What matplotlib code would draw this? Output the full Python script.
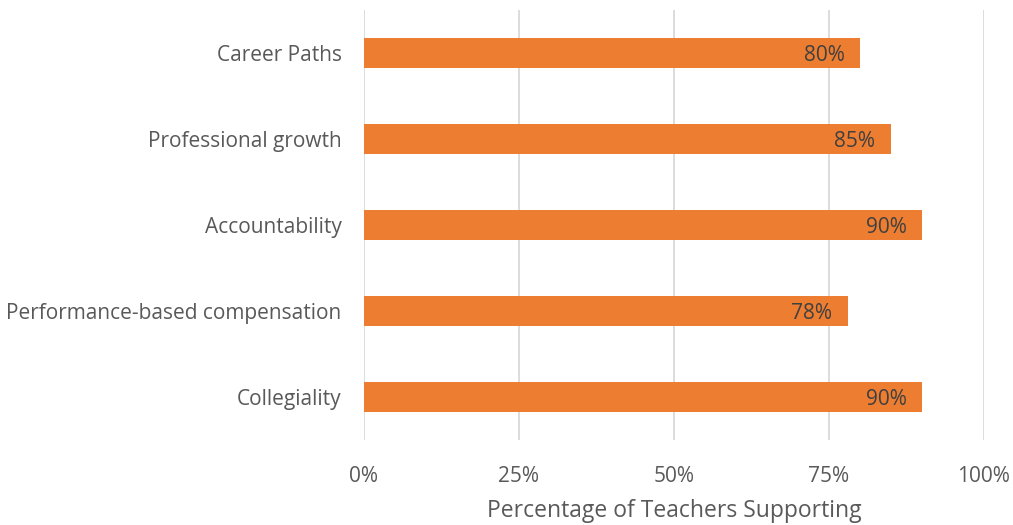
import matplotlib.pyplot as plt

categories = ['Career Paths', 'Professional growth', 'Accountability',
              'Performance-based compensation', 'Collegiality']
values = [80, 85, 90, 78, 90]
xticks = [0, 25, 50, 75, 100]
xtick_labels = ['0%', '25%', '50%', '75%', '100%']

plt.rcParams['font.family'] = ['Open Sans', 'DejaVu Sans']

fig = plt.figure(figsize=(10.13, 5.25), dpi=100)
ax = fig.add_axes([0.3593, 0.162, 0.612, 0.819])

pos = list(range(len(categories)))
bars = ax.barh(pos, values, height=0.35, color='#ED7D31', zorder=2)

for b, v in zip(bars, values):
    ax.text(v - 2.5, b.get_y() + b.get_height() / 2 + 0.03, f'{v}%', ha='right', va='center',
            fontsize=15, color='#404040', zorder=3)

ax.set_ylim(len(categories) - 0.5, -0.5)
ax.set_xlim(0, 100)
ax.set_yticks(pos)
ax.set_yticklabels(categories, fontsize=15, color='#595959')
ax.set_xticks(xticks)
ax.set_xticklabels(xtick_labels, fontsize=15, color='#595959')
ax.tick_params(axis='both', length=0)
ax.tick_params(axis='y', pad=16)
ax.tick_params(axis='x', pad=19)
ax.set_xlabel('Percentage of Teachers Supporting', fontsize=16.5, color='#595959', labelpad=8.5)

ax.grid(axis='x', color='#D9D9D9', linewidth=1.3, zorder=0)
for s in ax.spines.values():
    s.set_visible(False)

fig.savefig('out.png', dpi=100)
